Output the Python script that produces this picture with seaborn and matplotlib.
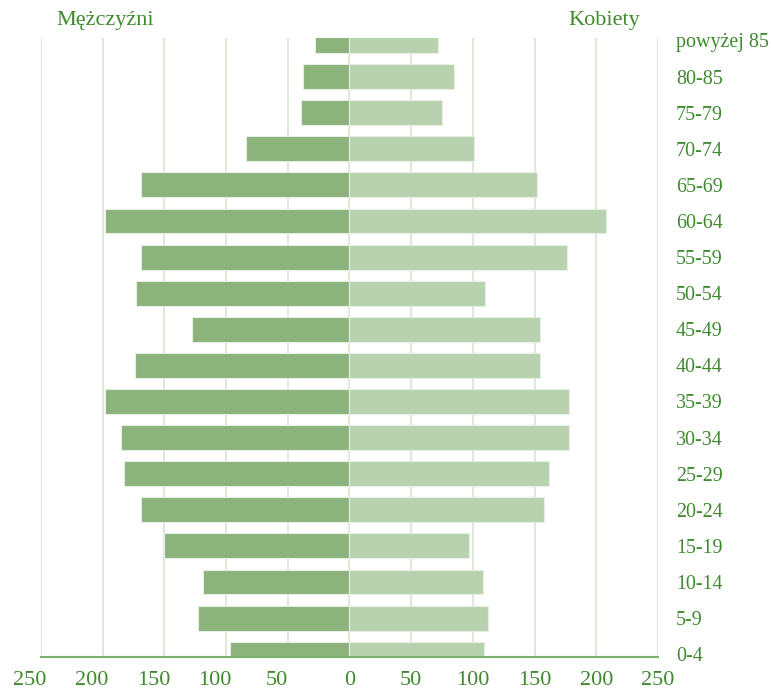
import numpy as np
import pandas as pd
import matplotlib
matplotlib.use('Agg')
import matplotlib.pyplot as plt
import matplotlib.transforms as mtransforms
import seaborn as sns

# Age groups (top to bottom) and population counts
age_groups = ['powyżej 85', '80-85', '75-79', '70-74', '65-69', '60-64', '55-59', '50-54',
              '45-49', '40-44', '35-39', '30-34', '25-29', '20-24', '15-19', '10-14', '5-9', '0-4']
men = [28, 38, 39, 84, 169, 198, 169, 173, 128, 174, 198, 185, 183, 169, 150, 119, 123, 97]
women = [72, 85, 75, 101, 152, 208, 176, 110, 154, 154, 178, 178, 162, 158, 97, 108, 112, 109]

df = pd.DataFrame({'wiek': age_groups, 'men': -np.array(men), 'women': women})

sns.set_style('white')
plt.rcParams['font.family'] = ['Liberation Serif', 'DejaVu Serif']

text_col = '#3f8a2f'
men_col = '#8bb37b'
women_col = '#b8d2af'
axis_col = '#7fb06f'

fig = plt.figure(figsize=(7.71, 6.89), dpi=100)
ax = fig.add_axes([0.0532, 0.0469, 0.8002, 0.898])

sns.barplot(data=df, y='wiek', x='men', color=men_col, width=0.69, orient='h',
            edgecolor='#e6efe2', linewidth=0.8, saturation=1, ax=ax, zorder=3)
sns.barplot(data=df, y='wiek', x='women', color=women_col, width=0.69, orient='h',
            edgecolor='#e6efe2', linewidth=0.8, saturation=1, ax=ax, zorder=3)

ax.set_xlim(-250, 250)
ax.set_ylim(17.07, -0.07)

ticks = np.arange(-250, 251, 50)
ax.set_xticks(ticks)
ax.set_xticklabels([str(abs(t)) for t in ticks], fontsize=16, color=text_col)
for t in ticks:
    ax.axvline(t, color='#dfe9da', lw=1.5, zorder=0)

ax.yaxis.tick_right()
ax.set_yticks(range(len(age_groups)))
ax.set_yticklabels(age_groups, fontsize=14.4, color=text_col)
ax.tick_params(axis='y', length=0, pad=13)
ax.tick_params(axis='x', direction='in', length=4, width=1.5, color=axis_col, pad=10)

# negative side labels sit a bit to the left (hidden minus sign)
shift = mtransforms.ScaledTranslation(-0.11, 0, fig.dpi_scale_trans)
for t, tick in zip(ticks, ax.xaxis.get_major_ticks()):
    if t < 0:
        tick.label1.set_transform(tick.label1.get_transform() + shift)

ax.set_xlabel('')
ax.set_ylabel('')
for s in ['top', 'left', 'right']:
    ax.spines[s].set_visible(False)
ax.spines['bottom'].set_color(axis_col)
ax.spines['bottom'].set_linewidth(1.5)
ax.spines['bottom'].set_zorder(5)

fig.text(105 / 771, 1 - 20 / 689, 'Mężczyźni', fontsize=16, color=text_col, ha='center', va='center')
fig.text(604 / 771, 1 - 20 / 689, 'Kobiety', fontsize=16, color=text_col, ha='center', va='center')

fig.savefig('out.png', dpi=100)
